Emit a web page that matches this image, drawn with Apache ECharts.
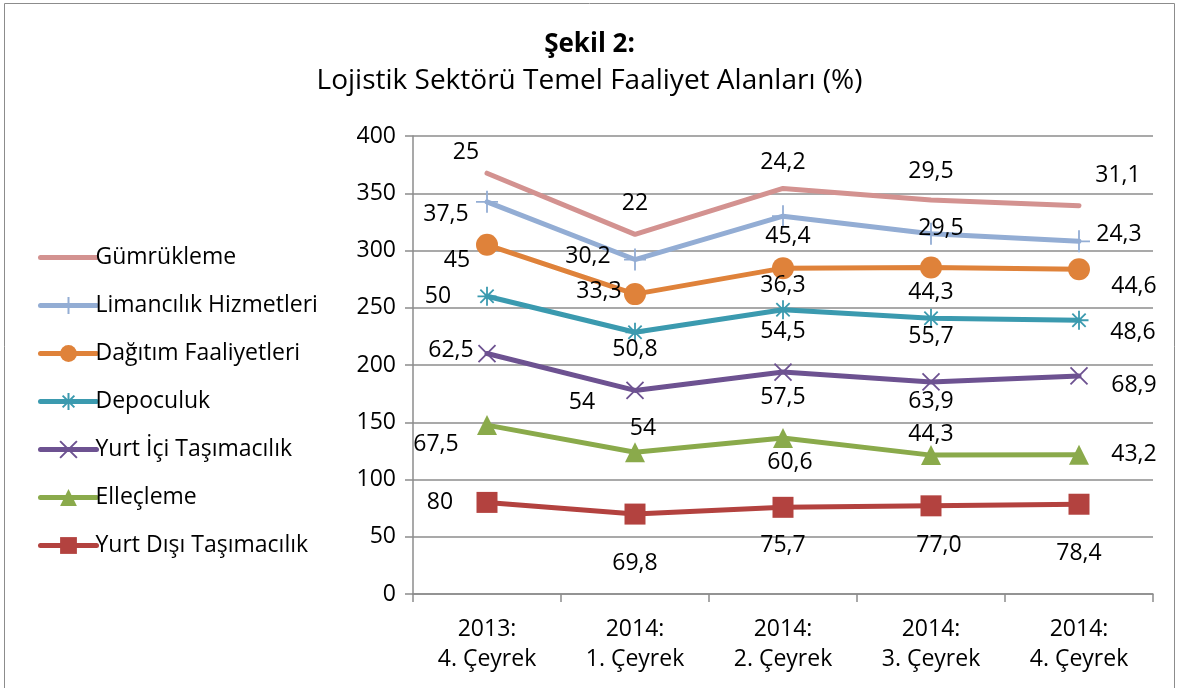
<!DOCTYPE html>
<html><head><meta charset="utf-8">
<script src="https://cdn.jsdelivr.net/npm/echarts@6/dist/echarts.min.js"></script>
<style>html,body{margin:0;padding:0;background:#fff}#c{width:1179px;height:688px}</style>
</head><body><div id="c"></div>
<script>
const categories = ['2013:\n4. Çeyrek','2014:\n1. Çeyrek','2014:\n2. Çeyrek','2014:\n3. Çeyrek','2014:\n4. Çeyrek'];
const yurtDisi = [80, 69.8, 75.7, 77.0, 78.4];
const yurtDisiDecimals = [0, 1, 1, 1, 1];
const ellecleme = [67.5, 54, 60.6, 44.3, 43.2];
const yurtIci = [62.5, 54, 57.5, 63.9, 68.9];
const depoculuk = [50, 50.8, 54.5, 55.7, 48.6];
const dagitim = [45, 33.3, 36.3, 44.3, 44.6];
const limancilik = [37.5, 30.2, 45.4, 29.5, 24.3];
const gumrukleme = [25, 22, 24.2, 29.5, 31.1];
const yTicks = [0, 50, 100, 150, 200, 250, 300, 350, 400];

const F = '"Open Sans", Lato, sans-serif';
const plusPath = 'path://M0,5L10,5M5,0L5,10';
const xPath = 'path://M0,0L10,10M0,10L10,0';
const starPath = 'path://M0,5L10,5M5,0L5,10M1.5,1.5L8.5,8.5M1.5,8.5L8.5,1.5';

// label offsets (layout only)
const offs = {
  gum: [[-21,-21],[0,-31],[0,-26],[0,-28],[39,-30]],
  lim: [[-41,13],[-47,-3],[5,20],[10,-5],[40,-7]],
  dag: [[-30,16],[-36,-3],[0,17],[0,25],[55,17]],
  dep: [[-49,0],[0,17],[0,22],[0,18],[54,12]],
  ici: [[-36,-3],[-53,12],[0,25],[0,20],[55,10]],
  ell: [[-51,19],[8,-24],[7,25],[0,-21],[55,0]],
  dis: [[-47,0],[0,49],[0,38],[8,40],[0,49]]
};

function mk(name, vals, color, symbol, size, off, stroke, decimals, hideSym) {
  return {
    name, type: 'line', stack: 'total', symbol, symbolSize: size,
    showSymbol: true,
    lineStyle: { color, width: 5, cap: 'round' },
    itemStyle: hideSym ? { color: 'transparent', borderColor: 'transparent' } :
      (stroke ? { color: color, borderColor: color, borderWidth: 1.8 } : { color }),
    data: vals.map((v, i) => ({
      value: v,
      label: { offset: off[i] }
    })),
    label: {
      show: true, position: 'inside', color: '#000', fontSize: 23, fontFamily: F,
      formatter: p => {
        const v = vals[p.dataIndex];
        const d = decimals ? decimals[p.dataIndex] : null;
        const s = d != null ? v.toFixed(d) : String(v);
        return s.replace('.', ',');
      }
    },
    emphasis: { disabled: true },
    z: 2
  };
}

const series = [
  mk('Yurt Dışı Taşımacılık', yurtDisi, '#B3423F', 'rect', 21, offs.dis, false, yurtDisiDecimals),
  mk('Elleçleme', ellecleme, '#8AAA4B', 'triangle', 20, offs.ell, false),
  mk('Yurt İçi Taşımacılık', yurtIci, '#6D5291', xPath, 17, offs.ici, true),
  mk('Depoculuk', depoculuk, '#3B9AAF', starPath, 19, offs.dep, true),
  mk('Dağıtım Faaliyetleri', dagitim, '#DF823A', 'circle', 22, offs.dag, false),
  mk('Limancılık Hizmetleri', limancilik, '#93ADD4', plusPath, 22, offs.lim, true),
  mk('Gümrükleme', gumrukleme, '#D39290', 'circle', 1, offs.gum, false, null, true)
];

const chart = echarts.init(document.getElementById('c'));
chart.setOption({
  animation: false,
  backgroundColor: '#fff',
  title: [
    { text: 'Şekil 2:', left: 'center', top: 27, textStyle: { fontFamily: F, fontSize: 26, fontWeight: 'bold', color: '#000' } },
    { text: 'Lojistik Sektörü Temel Faaliyet Alanları (%)', left: 'center', top: 62, textStyle: { fontFamily: F, fontSize: 28, fontWeight: 'normal', color: '#000' } }
  ],
  graphic: [{ type: 'rect', shape: { x: 4.5, y: 3.5, width: 1170, height: 700 }, style: { fill: 'none', stroke: '#8c8c8c', lineWidth: 1 }, silent: true }],
  legend: {
    orient: 'vertical', left: 33, top: 241, itemGap: 25, itemWidth: 56, itemHeight: 21,
    data: ['Gümrükleme','Limancılık Hizmetleri','Dağıtım Faaliyetleri','Depoculuk','Yurt İçi Taşımacılık','Elleçleme','Yurt Dışı Taşımacılık'],
    lineStyle: { width: 5 },
    textStyle: { fontFamily: F, fontSize: 23, lineHeight: 21, color: '#000', padding: [0,0,0,-6] }
  },
  grid: { left: 413, right: 26, top: 136, bottom: 94 },
  xAxis: {
    type: 'category', data: categories, boundaryGap: true,
    axisLine: { lineStyle: { color: '#8c8c8c', width: 1.5 } },
    axisTick: { show: true, length: 8, lineStyle: { color: '#8c8c8c', width: 1.5 } },
    axisLabel: { fontFamily: F, fontSize: 23, color: '#000', lineHeight: 30, margin: 20 }
  },
  yAxis: {
    type: 'value', min: 0, max: 400, interval: 50,
    axisLine: { show: true, lineStyle: { color: '#8c8c8c', width: 1.5 } },
    axisTick: { show: true, length: 8, lineStyle: { color: '#8c8c8c', width: 1.5 } },
    splitLine: { lineStyle: { color: '#8c8c8c', width: 1.5 } },
    axisLabel: { fontFamily: F, fontSize: 23, color: '#000', margin: 17,
      formatter: v => yTicks.includes(v) ? String(v) : '' }
  },
  series
});
</script></body></html>
